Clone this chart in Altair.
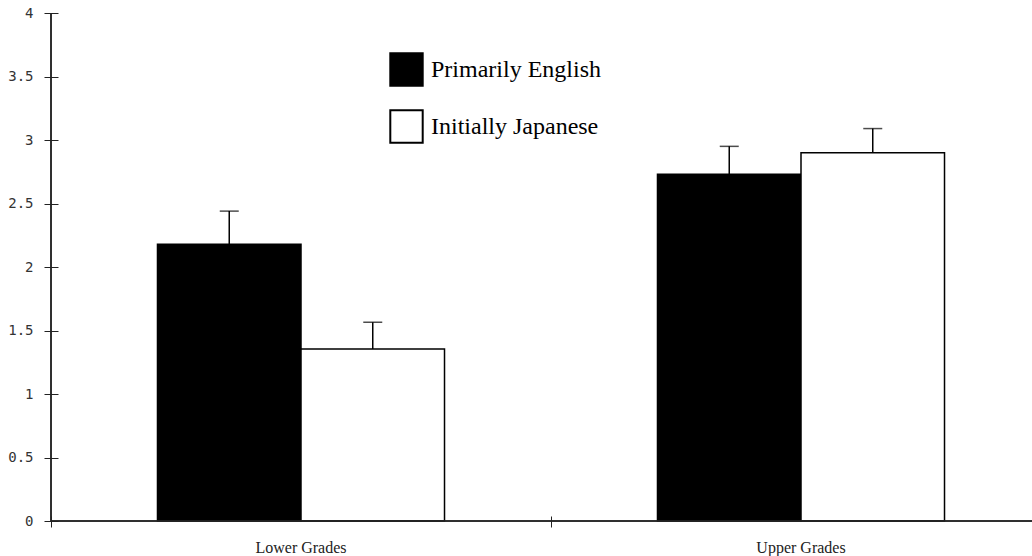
import altair as alt
import pandas as pd

grades = ["Lower Grades", "Upper Grades"]
groups = ["Primarily English", "Initially Japanese"]
english_mean = [2.18, 2.73]
japanese_mean = [1.355, 2.90]
english_upper = [2.44, 2.95]
japanese_upper = [1.565, 3.09]
y_ticks = [0, 0.5, 1, 1.5, 2, 2.5, 3, 3.5, 4]

rows = []
for i, g in enumerate(grades):
    rows.append({"grade": g, "group": groups[0], "mean": english_mean[i], "upper": english_upper[i]})
    rows.append({"grade": g, "group": groups[1], "mean": japanese_mean[i], "upper": japanese_upper[i]})
df = pd.DataFrame(rows)

x_enc = alt.X(
    "grade:N",
    sort=grades,
    title=None,
    scale=alt.Scale(range=[0, 1000], paddingInner=0, paddingOuter=0),
    axis=alt.Axis(
        bandPosition=0,
        labelAngle=0,
        labelFont="Liberation Serif",
        labelFontSize=16,
        labelColor="#222",
        labelPadding=12,
        labelBaseline="top",
        tickSize=11,
        offset=-5,
        domain=False,
        tickColor="#222",
        grid=False,
    ),
)
xo_enc = alt.XOffset(
    "group:N", sort=groups,
    scale=alt.Scale(domain=groups, paddingInner=0, paddingOuter=0.742),
)
y_scale = alt.Scale(domain=[0, 4], nice=False)

bars = alt.Chart(df).mark_bar(stroke="black", strokeWidth=1.5).encode(
    x=x_enc,
    xOffset=xo_enc,
    y=alt.Y(
        "mean:Q",
        scale=y_scale,
        title=None,
        axis=alt.Axis(
            values=y_ticks,
            format=".1~f",
            labelFont="DejaVu Sans Mono",
            labelFontSize=14,
            labelColor="#333",
            labelPadding=11,
            tickSize=14,
            offset=-7,
            domain=False,
            tickColor="#222",
            grid=False,
        ),
    ),
    fill=alt.Fill(
        "group:N",
        sort=groups,
        scale=alt.Scale(domain=groups, range=["black", "white"]),
        legend=alt.Legend(
            title=None,
            orient="none",
            legendX=338,
            legendY=39,
            symbolType="square",
            symbolSize=1050,
            symbolStrokeColor="black",
            symbolStrokeWidth=2,
            labelFont="Liberation Serif",
            labelFontSize=24,
            labelColor="black",
            labelOffset=7,
            rowPadding=16,
            labelLimit=400,
        ),
    ),
)

err = alt.Chart(df).mark_rule(color="black", strokeWidth=1.5).encode(
    x=x_enc, xOffset=xo_enc, y=alt.Y("mean:Q", scale=y_scale), y2="upper:Q"
)
caps = alt.Chart(df).mark_tick(color="black", thickness=1.5, size=19).encode(
    x=x_enc, xOffset=xo_enc, y=alt.Y("upper:Q", scale=y_scale)
)

# axis domain lines
y_domain = alt.Chart(df).mark_rule(color="#222", strokeWidth=1).encode(
    x=alt.value(0), y=alt.datum(0), y2=alt.datum(4)
)
x_domain = alt.Chart(df).mark_rule(color="#222", strokeWidth=1).encode(
    x=alt.value(0), x2=alt.value(981), y=alt.datum(0)
)

chart = alt.layer(bars, err, caps, y_domain, x_domain).properties(
    width=981,
    height=508,
    autosize=alt.AutoSizeParams(type="none"),
    padding={"left": 51, "top": 13, "right": 0, "bottom": 35},
    background="white",
).configure_view(stroke=None)

chart.save("out.html", embed_options={"renderer": "svg", "actions": False})
